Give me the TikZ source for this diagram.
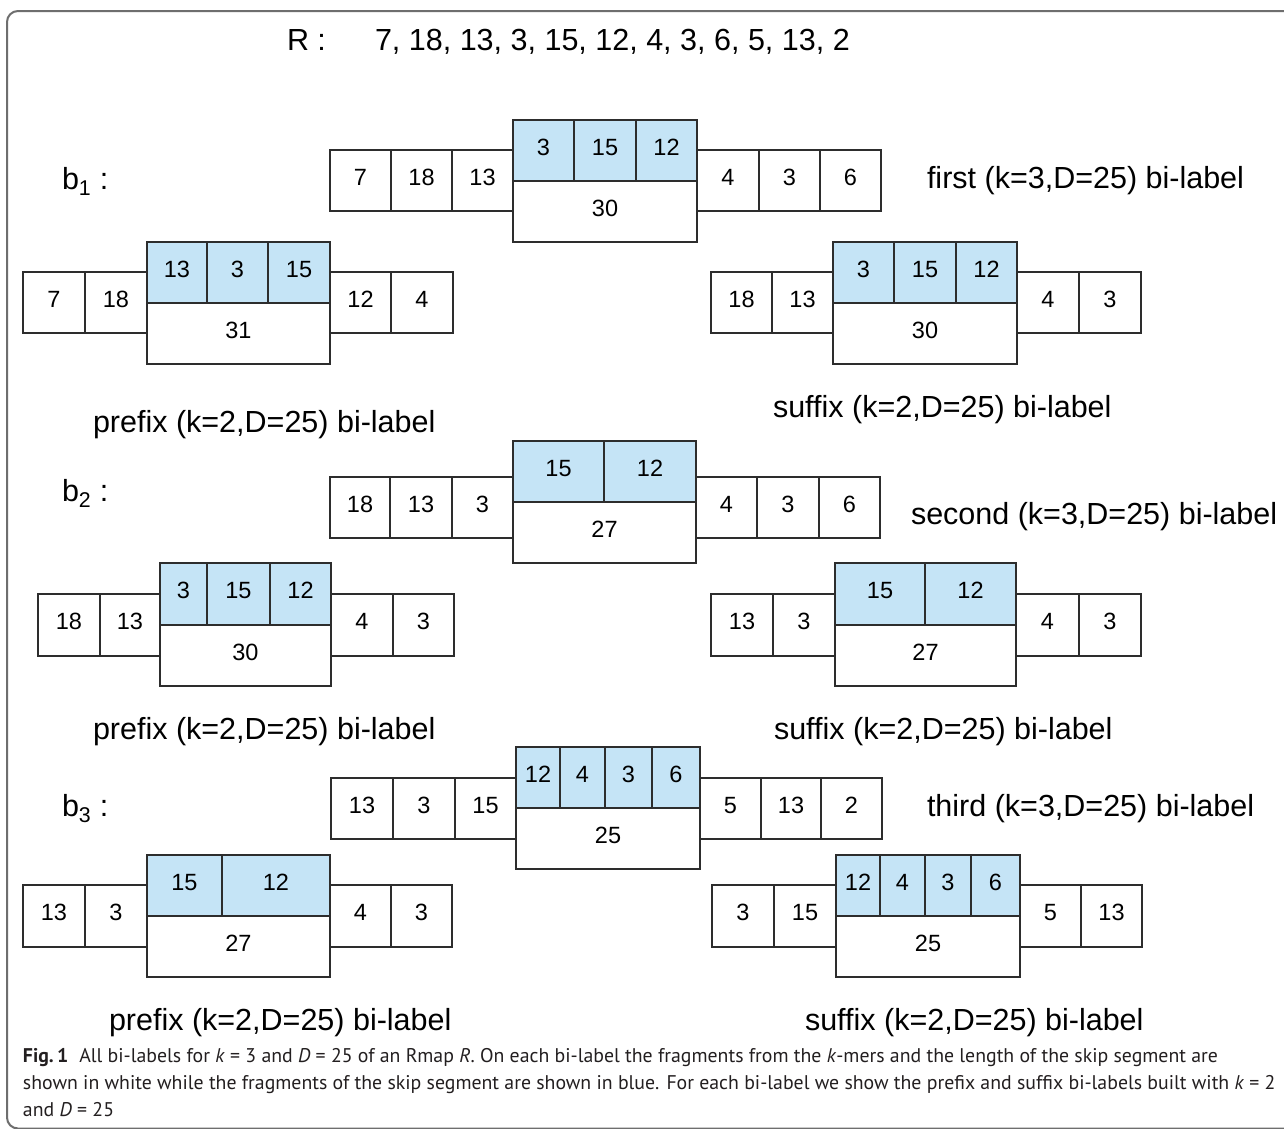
\documentclass[tikz,border=0pt]{standalone}
\usepackage{fontspec}
\setmainfont{Liberation Sans}
\newfontfamily\capfont{PT Sans}
\definecolor{skipblue}{RGB}{197,228,246}
\definecolor{edge}{RGB}{45,45,45}
\definecolor{framecol}{RGB}{110,110,110}
\definecolor{captext}{RGB}{35,31,32}
\tikzset{
  cellbox/.style={draw=edge, line width=1.3pt, fill=white, inner sep=0pt, outer sep=0pt,
    font=\fontsize{23.5}{26}\selectfont, text depth=7pt},
  bluebox/.style={cellbox, fill=skipblue},
  biglabel/.style={inner sep=0pt, outer sep=0pt, anchor=base west, font=\fontsize{30.5}{34}\selectfont},
  capline/.style={inner sep=0pt, outer sep=0pt, anchor=base west, text=captext, font=\capfont\fontsize{19.8}{27}\selectfont}
}
% \bx[style]{name}{x1}{y1}{x2}{y2}{text}
\newcommand\bx[7][cellbox]{%
  \node[#1, minimum width={(#5-#3)*1pt}, minimum height={(#6-#4)*1pt}]
    (#2) at ({(#3+#5)/2},{(#4+#6)/2}) {#7};}
\begin{document}
\begin{tikzpicture}[x=1pt,y=-1pt]
\useasboundingbox (0,0) rectangle (1284,1128);
\fill[white] (0,0) rectangle (1284,1128);
% frame
\draw[framecol, line width=2pt, rounded corners=11pt] (1300,11) -- (7,11) -- (7,1128.5) -- (1300,1128.5);

% R sequence
\node[biglabel] (Rlab) at (287,50.5) {R :};
\node[biglabel] (Rseq) at (375,50.5) {7, 18, 13, 3, 15, 12, 4, 3, 6, 5, 13, 2};

% ---------- b1 ----------
\node[biglabel] (b1lab) at (62,189) {b\textsubscript{1} :};
\bx{a1}{330}{150}{391}{211}{7}
\bx{a2}{391}{150}{452}{211}{18}
\bx{a3}{452}{150}{513}{211}{13}
\bx[bluebox]{a4}{513}{120}{574}{181}{3}
\bx[bluebox]{a5}{574}{120}{636}{181}{15}
\bx[bluebox]{a6}{636}{120}{697}{181}{12}
\bx{askip}{513}{181}{697}{242}{30}
\bx{a7}{697}{150}{759}{211}{4}
\bx{a8}{759}{150}{820}{211}{3}
\bx{a9}{820}{150}{881}{211}{6}
\node[biglabel] (firstlab) at (927,188) {first (k=3,D=25) bi-label};

% b1 prefix
\bx{ap1}{23}{272}{85}{333}{7}
\bx{ap2}{85}{272}{147}{333}{18}
\bx[bluebox]{ap3}{147}{242}{207}{303}{13}
\bx[bluebox]{ap4}{207}{242}{268}{303}{3}
\bx[bluebox]{ap5}{268}{242}{330}{303}{15}
\bx{apskip}{147}{303}{330}{364}{31}
\bx{ap6}{330}{272}{391}{333}{12}
\bx{ap7}{391}{272}{453}{333}{4}
\node[biglabel] (aplab) at (93,432) {prefix (k=2,D=25) bi-label};

% b1 suffix
\bx{as1}{711}{272}{772}{333}{18}
\bx{as2}{772}{272}{833}{333}{13}
\bx[bluebox]{as3}{833}{242}{894}{303}{3}
\bx[bluebox]{as4}{894}{242}{956}{303}{15}
\bx[bluebox]{as5}{956}{242}{1017}{303}{12}
\bx{asskip}{833}{303}{1017}{364}{30}
\bx{as6}{1017}{272}{1079}{333}{4}
\bx{as7}{1079}{272}{1141}{333}{3}
\node[biglabel] (aslab) at (773,417) {suffix (k=2,D=25) bi-label};

% ---------- b2 ----------
\node[biglabel] (b2lab) at (62,501) {b\textsubscript{2} :};
\bx{c1}{330}{477}{390}{538}{18}
\bx{c2}{390}{477}{452}{538}{13}
\bx{c3}{452}{477}{513}{538}{3}
\bx[bluebox]{c4}{513}{441}{604}{502}{15}
\bx[bluebox]{c5}{604}{441}{696}{502}{12}
\bx{cskip}{513}{502}{696}{563}{27}
\bx{c6}{696}{477}{757}{538}{4}
\bx{c7}{757}{477}{819}{538}{3}
\bx{c8}{819}{477}{880}{538}{6}
\node[biglabel] (secondlab) at (911,524) {second (k=3,D=25) bi-label};

% b2 prefix
\bx{cp1}{38}{594}{100}{656}{18}
\bx{cp2}{100}{594}{160}{656}{13}
\bx[bluebox]{cp3}{160}{563}{207}{625}{3}
\bx[bluebox]{cp4}{207}{563}{270}{625}{15}
\bx[bluebox]{cp5}{270}{563}{331}{625}{12}
\bx{cpskip}{160}{625}{331}{686}{30}
\bx{cp6}{331}{594}{393}{656}{4}
\bx{cp7}{393}{594}{454}{656}{3}
\node[biglabel] (cplab) at (93,739) {prefix (k=2,D=25) bi-label};

% b2 suffix
\bx{cs1}{711}{594}{773}{656}{13}
\bx{cs2}{773}{594}{835}{656}{3}
\bx[bluebox]{cs3}{835}{563}{925}{625}{15}
\bx[bluebox]{cs4}{925}{563}{1016}{625}{12}
\bx{csskip}{835}{625}{1016}{686}{27}
\bx{cs5}{1016}{594}{1079}{656}{4}
\bx{cs6}{1079}{594}{1141}{656}{3}
\node[biglabel] (cslab) at (774,739) {suffix (k=2,D=25) bi-label};

% ---------- b3 ----------
\node[biglabel] (b3lab) at (62,816) {b\textsubscript{3} :};
\bx{d1}{331}{778}{393}{839}{13}
\bx{d2}{393}{778}{455}{839}{3}
\bx{d3}{455}{778}{516}{839}{15}
\bx[bluebox]{d4}{516}{747}{560}{808}{12}
\bx[bluebox]{d5}{560}{747}{605}{808}{4}
\bx[bluebox]{d6}{605}{747}{652}{808}{3}
\bx[bluebox]{d7}{652}{747}{700}{808}{6}
\bx{dskip}{516}{808}{700}{869}{25}
\bx{d8}{700}{778}{761}{839}{5}
\bx{d9}{761}{778}{821}{839}{13}
\bx{d10}{821}{778}{882}{839}{2}
\node[biglabel] (thirdlab) at (927,816) {third (k=3,D=25) bi-label};

% b3 prefix
\bx{dp1}{23}{885}{85}{947}{13}
\bx{dp2}{85}{885}{147}{947}{3}
\bx[bluebox]{dp3}{147}{855}{222}{916}{15}
\bx[bluebox]{dp4}{222}{855}{330}{916}{12}
\bx{dpskip}{147}{916}{330}{977}{27}
\bx{dp5}{330}{885}{391}{947}{4}
\bx{dp6}{391}{885}{452}{947}{3}
\node[biglabel] (dplab) at (109,1030) {prefix (k=2,D=25) bi-label};

% b3 suffix
\bx{ds1}{712}{885}{774}{947}{3}
\bx{ds2}{774}{885}{836}{947}{15}
\bx[bluebox]{ds3}{836}{855}{880}{916}{12}
\bx[bluebox]{ds4}{880}{855}{925}{916}{4}
\bx[bluebox]{ds5}{925}{855}{971}{916}{3}
\bx[bluebox]{ds6}{971}{855}{1020}{916}{6}
\bx{dsskip}{836}{916}{1020}{977}{25}
\bx{ds7}{1020}{885}{1081}{947}{5}
\bx{ds8}{1081}{885}{1142}{947}{13}
\node[biglabel] (dslab) at (805,1030) {suffix (k=2,D=25) bi-label};

% caption
\node[capline] (cap1) at (23,1062) {\textbf{Fig.\,1}\hspace{0.55em}All bi-labels for \textit{k} = 3 and \textit{D} = 25 of an Rmap \textit{R}. On each bi-label the fragments from the \textit{k}-mers and the length of the skip segment are};
\node[capline] (cap2) at (23,1089) {shown in white while the fragments of the skip segment are shown in blue. For each bi-label we show the prefix and suffix bi-labels built with \textit{k} = 2};
\node[capline] (cap3) at (23,1116) {and \textit{D} = 25};
\end{tikzpicture}
\end{document}
